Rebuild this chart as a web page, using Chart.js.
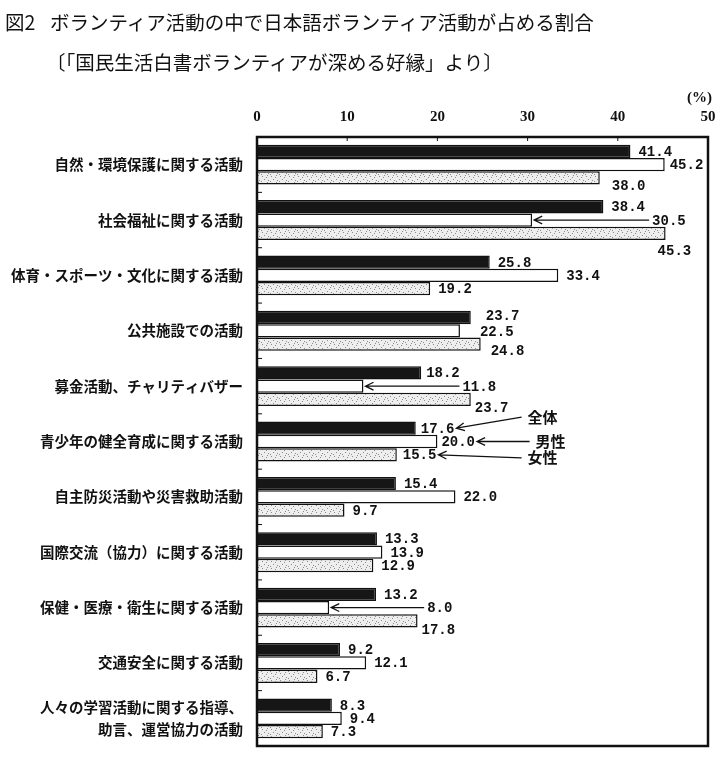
<!DOCTYPE html>
<html lang="ja">
<head>
<meta charset="UTF-8">
<title>図2 ボランティア活動の中で日本語ボランティア活動が占める割合</title>
<script src="https://cdn.jsdelivr.net/npm/chart.js@4.4.0/dist/chart.umd.min.js"></script>
<style>
    html, body { margin: 0; padding: 0; background: #fff; }
    #wrap { position: relative; width: 723px; height: 771px; overflow: hidden; }
    #chart { position: absolute; left: 0; top: 0; }
    .title {
        position: absolute;
        font-family: "Noto Sans CJK JP", sans-serif;
        font-size: 19.5px;
        color: #111;
        white-space: nowrap;
        line-height: 24px;
    }
</style>
</head>
<body>
<div id="wrap">
    <canvas id="chart" width="723" height="771"></canvas>
    <div class="title" style="left:5px; top:10px;">図2</div>
    <div class="title" style="left:50px; top:10px;">ボランティア活動の中で日本語ボランティア活動が占める割合</div>
    <div class="title" style="left:46px; top:50px;">〔「国民生活白書ボランティアが深める好縁」より〕</div>
</div>
<script>
// データ
const categories = [
    '自然・環境保護に関する活動',
    '社会福祉に関する活動',
    '体育・スポーツ・文化に関する活動',
    '公共施設での活動',
    '募金活動、チャリティバザー',
    '青少年の健全育成に関する活動',
    '自主防災活動や災害救助活動',
    '国際交流（協力）に関する活動',
    '保健・医療・衛生に関する活動',
    '交通安全に関する活動',
    ['人々の学習活動に関する指導、', '助言、運営協力の活動']
];
const seriesNames = ['全体', '男性', '女性'];
const totalValues  = [41.4, 38.4, 25.8, 23.7, 18.2, 17.6, 15.4, 13.3, 13.2, 9.2, 8.3];
const maleValues   = [45.2, 30.5, 33.4, 22.5, 11.8, 20.0, 22.0, 13.9, 8.0, 12.1, 9.4];
const femaleValues = [38.0, 45.3, 19.2, 24.8, 23.7, 15.5, 9.7, 12.9, 17.8, 6.7, 7.3];
const xTicks = [0, 10, 20, 30, 40, 50];

// 数値ラベルの位置調整 (dataset-index)
const labelLayout = {
    '1-0': { dx: 5 },
    '2-0': { dx: 12, dy: 7 },
    '1-1': { dx: 120, arrow: true },
    '2-1': { dx: -8, dy: 17 },
    '0-3': { dx: 15, dy: -2 },
    '1-3': { dx: 20, dy: 1 },
    '2-3': { dx: 10, dy: 6 },
    '0-4': { dx: 5 },
    '1-4': { dx: 99, arrow: true },
    '2-4': { dx: 4, dy: 8 },
    '0-5': { dx: 5 },
    '1-5': { dx: 4 },
    '2-5': { dx: 6 },
    '1-8': { dx: 98, arrow: true },
    '2-8': { dx: 4, dy: 9 }
};
// 凡例の引き出し線 (青少年の健全育成)
const legendCallouts = [
    { ds: 0, cat: 5, at: 30, ox: 0, dy: -11 },
    { ds: 1, cat: 5, at: 30, ox: 8, dy: 0 },
    { ds: 2, cat: 5, at: 30, ox: 0, dy: 3 }
];

const canvas = document.getElementById('chart');
const mainCtx = canvas.getContext('2d');

// 女性の網掛けパターン
function makeDotPattern() {
    const c = document.createElement('canvas');
    c.width = 9;
    c.height = 7;
    const g = c.getContext('2d');
    g.fillStyle = '#eeeeee';
    g.fillRect(0, 0, 9, 7);
    g.fillStyle = '#8c8c8c';
    [[1, 1], [5, 2], [3, 4], [7, 5], [0, 6], [6, 0]].forEach(([x, y]) => g.fillRect(x, y, 1, 1));
    return mainCtx.createPattern(c, 'repeat');
}

function drawArrow(ctx, x1, y1, x2, y2) {
    const ang = Math.atan2(y2 - y1, x2 - x1);
    const len = 9;
    ctx.beginPath();
    ctx.moveTo(x1, y1);
    ctx.lineTo(x2, y2);
    ctx.moveTo(x2 - len * Math.cos(ang - 0.45), y2 - len * Math.sin(ang - 0.45));
    ctx.lineTo(x2, y2);
    ctx.lineTo(x2 - len * Math.cos(ang + 0.45), y2 - len * Math.sin(ang + 0.45));
    ctx.stroke();
}

const LABEL_FONT = 'bold 14px "Liberation Mono", monospace';

// 枠線・目盛り・数値ラベル
const decorPlugin = {
    id: 'decor',
    afterDatasetsDraw(chart) {
        const ctx = chart.ctx;
        const area = chart.chartArea;
        const xs = chart.scales.x;
        ctx.save();
        ctx.strokeStyle = '#111';
        ctx.fillStyle = '#111';

        // 外枠
        ctx.lineWidth = 2.5;
        ctx.strokeRect(area.left, area.top, area.right - area.left, area.bottom - area.top);

        // 上辺の目盛り
        ctx.lineWidth = 1;
        xTicks.slice(1, -1).forEach(v => {
            const x = xs.getPixelForValue(v);
            ctx.beginPath();
            ctx.moveTo(x, area.top);
            ctx.lineTo(x, area.top + 4);
            ctx.stroke();
        });
        // 左辺の区切り
        const band = (area.bottom - area.top) / categories.length;
        for (let i = 1; i < categories.length; i++) {
            const y = area.top + band * i;
            ctx.beginPath();
            ctx.moveTo(area.left, y);
            ctx.lineTo(area.left + 5, y);
            ctx.stroke();
        }

        // (%)
        ctx.font = 'bold 15px "Liberation Serif", serif';
        ctx.textAlign = 'right';
        ctx.textBaseline = 'middle';
        ctx.fillText('(%)', area.right + 4, 98);

        // 数値ラベル
        ctx.font = LABEL_FONT;
        ctx.textAlign = 'left';
        ctx.lineWidth = 1.3;
        const labelEnds = {};
        chart.data.datasets.forEach((ds, di) => {
            chart.getDatasetMeta(di).data.forEach((bar, i) => {
                const lay = labelLayout[di + '-' + i] || {};
                const dx = lay.dx ?? 8;
                const dy = lay.dy ?? 0;
                const text = ds.data[i].toFixed(1);
                const tx = bar.x + dx;
                const ty = bar.y + dy;
                ctx.fillText(text, tx, ty + 1);
                labelEnds[di + '-' + i] = { x: tx + ctx.measureText(text).width, y: ty };
                if (lay.arrow) drawArrow(ctx, tx - 3, ty, bar.x + 2, bar.y);
            });
        });

        // 凡例
        ctx.font = 'bold 15px "Noto Sans CJK JP", sans-serif';
        legendCallouts.forEach(c => {
            const end = labelEnds[c.ds + '-' + c.cat];
            const tx = xs.getPixelForValue(c.at) + c.ox;
            const ty = end.y + c.dy;
            ctx.fillText(seriesNames[c.ds], tx, ty);
            drawArrow(ctx, tx - 6, ty, end.x + 2, end.y);
        });
        ctx.restore();
    }
};

const femalePattern = makeDotPattern();

new Chart(mainCtx, {
    type: 'bar',
    data: {
        labels: categories,
        datasets: [
            {
                label: seriesNames[0],
                data: totalValues,
                backgroundColor: '#161616',
                borderColor: '#111',
                borderWidth: 1.5
            },
            {
                label: seriesNames[1],
                data: maleValues,
                backgroundColor: '#ffffff',
                borderColor: '#111',
                borderWidth: 1.5
            },
            {
                label: seriesNames[2],
                data: femaleValues,
                backgroundColor: femalePattern,
                borderColor: '#111',
                borderWidth: 1.5
            }
        ]
    },
    options: {
        indexAxis: 'y',
        responsive: false,
        animation: false,
        datasets: {
            bar: {
                categoryPercentage: 0.72,
                barPercentage: 1.0
            }
        },
        layout: {
            padding: { left: 0, top: 0, right: 15, bottom: 25 }
        },
        plugins: {
            legend: { display: false },
            tooltip: { enabled: false }
        },
        scales: {
            x: {
                position: 'top',
                min: 0,
                max: 50,
                afterBuildTicks: (scale) => {
                    scale.ticks = xTicks.map(v => ({ value: v }));
                },
                afterFit: (scale) => {
                    scale.height = 137;
                    scale.paddingLeft = 0;
                    scale.paddingRight = 0;
                },
                grid: { display: false },
                border: { display: false },
                ticks: {
                    padding: 3,
                    color: '#111',
                    maxRotation: 0,
                    font: { family: '"Liberation Serif", serif', size: 15, weight: 'bold' }
                }
            },
            y: {
                afterFit: (scale) => { scale.width = 257; },
                grid: { display: false },
                border: { display: false },
                ticks: {
                    padding: 6,
                    color: '#111',
                    autoSkip: false,
                    font: { family: '"Noto Sans CJK JP", sans-serif', size: 14.5, weight: 'bold', lineHeight: 1.5 }
                }
            }
        }
    },
    plugins: [decorPlugin]
});
</script>
</body>
</html>
